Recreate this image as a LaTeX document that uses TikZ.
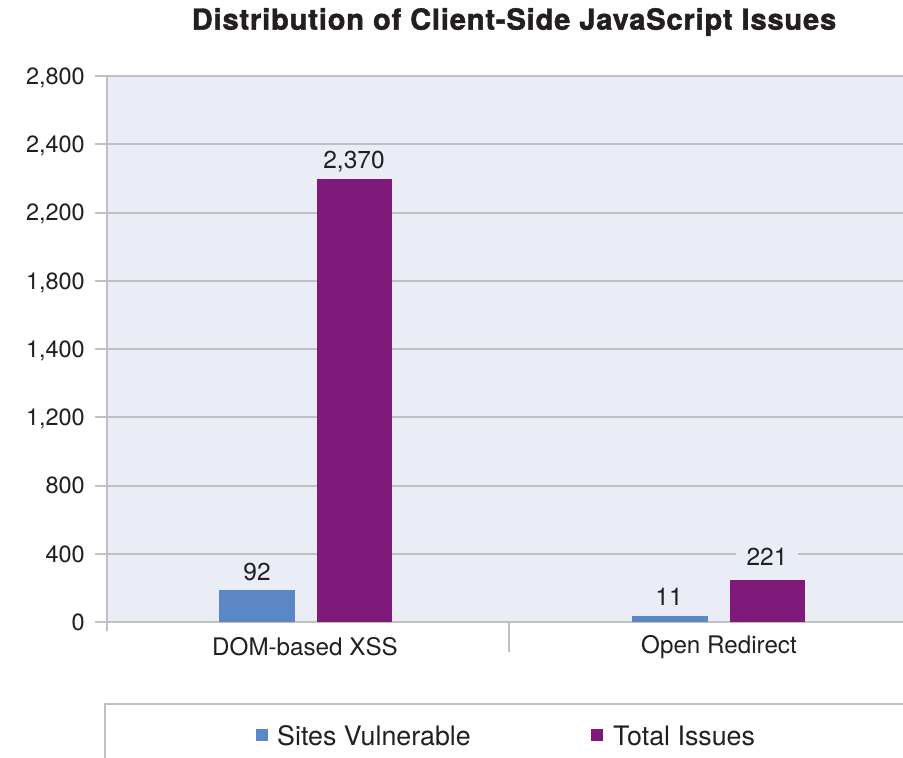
\documentclass[tikz,border=0pt]{standalone}
\usepackage{fontspec}
\setmainfont{TeX Gyre Heros}
\newfontfamily\titlefont[FakeBold=1.6,LetterSpace=3]{TeX Gyre Heros Bold}
\definecolor{plotbg}{RGB}{234,236,246}
\definecolor{gridc}{RGB}{192,192,192}
\definecolor{barblue}{RGB}{91,135,197}
\definecolor{barpurple}{RGB}{128,26,122}
\definecolor{txt}{RGB}{35,31,32}
\begin{document}
\begin{tikzpicture}[x=1pt,y=-1pt,
  every node/.style={text=txt,inner sep=0pt},
  gridline/.style={draw=gridc,line width=2pt},
  axislbl/.style={font=\fontsize{23.5}{28}\selectfont,anchor=east,text depth=0pt},
  catlbl/.style={font=\fontsize{24.2}{28}\selectfont},
  vallbl/.style={font=\fontsize{24.5}{28}\selectfont,fill=plotbg,inner xsep=11pt,inner ysep=3pt,text depth=0pt},
  legtxt/.style={font=\fontsize{26.8}{30}\selectfont,anchor=west},
  bluebar/.style={fill=barblue},
  purplebar/.style={fill=barpurple}]
\useasboundingbox (0,0) rectangle (903,758);
% title
\node[font=\fontsize{29}{34}\titlefont] (title) at (514,22) {Distribution of Client-Side JavaScript Issues};
% plot area
\fill[plotbg] (107,76) rectangle (903,622);
% gridlines and tick labels
\foreach \i/\lab in {0/0,1/400,2/800,3/{1,200},4/{1,400},5/{1,800},6/{2,200},7/{2,400},8/{2,800}}{
  \pgfmathsetmacro{\yy}{622-68.25*\i}
  \draw[gridline] (95,\yy) -- (903,\yy);
  \node[axislbl] (ylab\i) at (85,\yy) {\lab};
}
% axes
\draw[gridline] (107,76) -- (107,631);
\draw[gridline] (509,622) -- (509,652);
% bars
\fill[bluebar] (219,590) rectangle (295,622);
\fill[purplebar] (317,179) rectangle (392,622);
\fill[bluebar] (632,616) rectangle (708,622);
\fill[purplebar] (730,580) rectangle (805,622);
% value labels
\node[vallbl] (v1) at (257,572) {92};
\node[vallbl] (v2) at (354,160) {2,370};
\node[vallbl] (v3) at (669,597) {11};
\node[vallbl] (v4) at (767,557) {221};
% category labels
\node[catlbl] (c1) at (305,647) {DOM-based XSS};
\node[catlbl] (c2) at (719,647) {Open Redirect};
% legend
\draw[gridline] (903,704) -- (105,704) -- (105,758);
\fill[barblue] (256,729) rectangle (268,741);
\node[legtxt] (l1) at (277,736) {Sites Vulnerable};
\fill[barpurple] (591,729) rectangle (603,741);
\node[legtxt] (l2) at (613,736) {Total Issues};
\end{tikzpicture}
\end{document}
